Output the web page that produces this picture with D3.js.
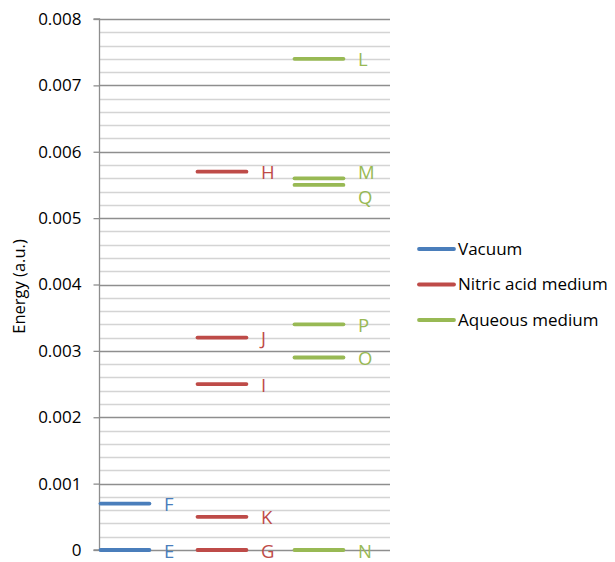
<!DOCTYPE html>
<html>
<head>
<meta charset="utf-8">
<script src="https://cdn.jsdelivr.net/npm/d3@7"></script>
<style>
  body { margin: 0; background: #fff; }
  svg { display: block; }
  text { font-family: "Open Sans", "Noto Sans", sans-serif; }
</style>
</head>
<body>
<svg id="chart" width="615" height="562"></svg>
<script>
// ---- data ----
const seriesNames = ["Vacuum", "Nitric acid medium", "Aqueous medium"];
const seriesColors = ["#4a7ebb", "#be4b48", "#98b954"];
const vacuumLabels = ["E", "F"];
const vacuumValues = [0, 0.0007];
const nitricLabels = ["G", "H", "I", "J", "K"];
const nitricValues = [0, 0.0057, 0.0025, 0.0032, 0.0005];
const aqueousLabels = ["L", "M", "N", "O", "P", "Q"];
const aqueousValues = [0.0074, 0.0056, 0, 0.0029, 0.0034, 0.0055];
const yTicks = [0, 0.001, 0.002, 0.003, 0.004, 0.005, 0.006, 0.007, 0.008];
const yTickLabels = ["0", "0.001", "0.002", "0.003", "0.004", "0.005", "0.006", "0.007", "0.008"];
const yAxisTitle = "Energy (a.u.)";

const series = [
  { name: seriesNames[0], color: seriesColors[0], labels: vacuumLabels, values: vacuumValues },
  { name: seriesNames[1], color: seriesColors[1], labels: nitricLabels, values: nitricValues },
  { name: seriesNames[2], color: seriesColors[2], labels: aqueousLabels, values: aqueousValues }
];

const svg = d3.select("#chart");
const pLeft = 99, pRight = 390, pTop = 19, pBottom = 550;

const y = d3.scaleLinear().domain([0, 0.008]).range([pBottom, pTop]);
const x = d3.scaleBand().domain(seriesNames).range([pLeft, pLeft + 291]).paddingInner(0).paddingOuter(0);

// minor gridlines
const minor = d3.range(0, 0.00801, 0.0002).filter(v => Math.abs(Math.round(v * 1000) - v * 1000) > 1e-6);
svg.append("g").selectAll("line").data(minor).join("line")
  .attr("x1", pLeft).attr("x2", pRight)
  .attr("y1", d => Math.round(y(d)) + 0.5).attr("y2", d => Math.round(y(d)) + 0.5)
  .attr("stroke", "#d4d4d4").attr("stroke-width", 1.3);

// major gridlines
svg.append("g").selectAll("line").data(yTicks).join("line")
  .attr("x1", pLeft).attr("x2", pRight)
  .attr("y1", d => Math.round(y(d)) + 0.5).attr("y2", d => Math.round(y(d)) + 0.5)
  .attr("stroke", "#8e8e8e").attr("stroke-width", 1.3);

// y axis
const yAxis = d3.axisLeft(y).tickValues(yTicks).tickFormat((d, i) => yTickLabels[i]).tickSize(6).tickPadding(12);
const gy = svg.append("g").attr("transform", `translate(${pLeft + 0.5},0)`).call(yAxis);
gy.select(".domain").attr("stroke", "#8e8e8e").attr("stroke-width", 1.3).attr("d", `M-6,${pTop}H0V${pBottom}H-6`);
gy.selectAll(".tick line").attr("stroke", "#8e8e8e").attr("stroke-width", 1.3);
gy.selectAll(".tick text").attr("fill", "#000").style("font-size", "17px").style("font-family", '"Open Sans", sans-serif');

// axis title
svg.append("text")
  .attr("transform", `translate(25,${(pTop + pBottom) / 2 + 2}) rotate(-90)`)
  .attr("text-anchor", "middle")
  .style("font-size", "16.5px")
  .attr("fill", "#000")
  .text(yAxisTitle);

// levels
const bw = x.bandwidth();
series.forEach(s => {
  const g = svg.append("g");
  const x0 = x(s.name);
  const lineLen = bw * 0.52;
  const pts = s.values.map((v, i) => ({ v, label: s.labels[i], ly: y(v) }));
  // simple label collision avoidance
  const sorted = pts.slice().sort((a, b) => a.ly - b.ly);
  for (let i = 1; i < sorted.length; i++) {
    const gap = sorted[i].ly - sorted[i - 1].ly;
    if (gap < 20) {
      sorted[i - 1].ly -= 7;
      sorted[i].ly += 11;
    }
  }
  g.selectAll("line").data(pts).join("line")
    .attr("x1", x0 + 1.5).attr("x2", x0 + lineLen)
    .attr("y1", d => y(d.v)).attr("y2", d => y(d.v))
    .attr("stroke", s.color).attr("stroke-width", 3.8).attr("stroke-linecap", "round");
  g.selectAll("text").data(pts).join("text")
    .attr("x", x0 + bw * 0.67)
    .attr("y", d => d.ly + 1)
    .attr("dy", "0.36em")
    .attr("fill", s.color)
    .style("font-size", "18.5px")
    .text(d => d.label);
});

// legend
const legend = svg.append("g");
series.forEach((s, i) => {
  const ly = 249 + i * 35.5;
  legend.append("line").attr("x1", 419).attr("x2", 454).attr("y1", ly).attr("y2", ly)
    .attr("stroke", s.color).attr("stroke-width", 3.8).attr("stroke-linecap", "round");
  legend.append("text").attr("x", 458).attr("y", ly).attr("dy", "0.35em")
    .style("font-size", "17px").attr("fill", "#000").text(s.name);
});
</script>
</body>
</html>
